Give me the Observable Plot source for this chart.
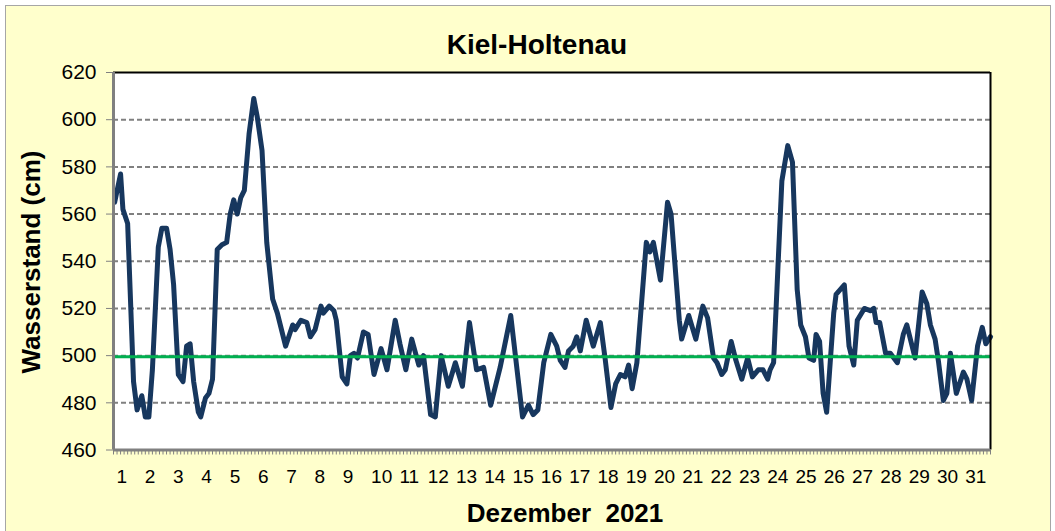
<!DOCTYPE html>
<html>
<head>
<meta charset="utf-8">
<script src="https://cdn.jsdelivr.net/npm/d3@7"></script>
<script src="https://cdn.jsdelivr.net/npm/@observablehq/plot@0.6"></script>
<style>
  html, body { margin: 0; padding: 0; background: white; }
  #wrap { position: relative; width: 1055px; height: 531px; overflow: hidden; font-family: Arial, "Liberation Sans", sans-serif; }
  #bg { position: absolute; left: 5px; top: 5px; width: 1044px; height: 540px; background: #FFFFCC; border: 1px solid #A6A6A6; }
  #title { position: absolute; left: 237px; width: 600px; top: 31px; text-align: center; font-size: 28px; line-height: 28px; font-weight: bold; color: #000; }
  #ylabel { position: absolute; left: 31px; top: 262px; transform: translate(-50%, -50%) rotate(-90deg); font-size: 26px; line-height: 26px; font-weight: bold; white-space: nowrap; color: #000; }
  #xlabel { position: absolute; left: 265px; width: 600px; top: 500px; text-align: center; font-size: 26px; line-height: 26px; font-weight: bold; white-space: pre; color: #000; }
  #chart { position: absolute; left: 0; top: 0; }
</style>
</head>
<body>
<div id="wrap">
  <div id="bg"></div>
  <div id="chart"></div>
  <div id="title">Kiel-Holtenau</div>
  <div id="ylabel">Wasserstand (cm)</div>
  <div id="xlabel">Dezember  2021</div>
</div>
<script>
// Hours since 1 Dec 2021 00:00
const hours = [1,6,8,12,17,20,24,27,30,33,38,41,45,48,51,55,59,62,65,68,72,74,78,81,84,88,92,96,99,102,105,108,111,115,119,122,126,130,135,139,146,152,154,159,164,167,171,176,178,183,187,189,194,198,201,204,207,212,216,221,227,232,239,243,248,253,259,263,269,273,278,284,290,296,302,308,314,320,328,337,347,352,356,360,365,371,376,379,383,386,390,393,396,401,407,413,417,422,426,430,434,437,440,444,452,455,458,464,470,473,480,482,488,494,500,504,509,512,516,519,524,528,533,538,542,547,551,555,557,560,563,567,572,576,580,583,587,590,594,596,599,602,605,608,611,613,620,624,628,631,637,642,645,647,650,655,659,665,670,673,680,686,690,693,697,700,704,707,710,715,721,724,728,733,737,740,744];
// Wasserstand in cm
const level = [565,577,562,556,489,477,483,474,474,494,546,554,554,545,530,492,489,504,505,489,476,474,482,484,490,545,547,548,560,566,560,567,570,594,609,601,587,548,524,518,504,513,511,515,514,508,511,521,518,521,519,515,491,488,500,501,499,510,509,492,503,494,515,505,494,507,496,500,475,474,500,487,497,487,514,494,495,479,495,517,474,479,475,477,497,509,504,498,495,502,504,508,502,515,504,514,499,478,488,492,491,496,486,497,548,544,548,532,565,560,515,507,517,507,521,516,499,497,492,494,506,498,490,499,491,494,494,490,494,497,530,574,589,582,528,513,508,499,498,509,506,484,476,497,518,526,530,504,496,515,520,519,520,514,514,501,501,497,509,513,499,527,522,513,507,497,481,484,501,484,493,490,481,504,512,505,508];
const meanLevel = 499.5;
const days = d3.range(1, 32);
const yTicks = [460, 480, 500, 520, 540, 560, 580, 600, 620];
const gridLines = [480, 500, 520, 540, 560, 580, 600];
const minorTicks = d3.range(0, 249).map(i => 1 + i / 8);

const data = hours.map((h, i) => ({t: 1 + h / 24, v: level[i]}));

const chart = Plot.plot({
  width: 1055,
  height: 531,
  marginLeft: 113,
  marginRight: 65,
  marginTop: 72,
  marginBottom: 81.5,
  style: {background: "transparent", fontFamily: "Arial, 'Liberation Sans', sans-serif", color: "black", overflow: "visible"},
  x: {domain: [1, 32], axis: null},
  y: {domain: [460, 620], axis: null},
  marks: [
    Plot.frame({fill: "white", stroke: null}),
    Plot.ruleY(gridLines, {stroke: "#808080", strokeWidth: 2, strokeDasharray: "5,3"}),
    Plot.line(data, {x: "t", y: "v", stroke: "#17375E", strokeWidth: 5, strokeLinejoin: "round", strokeLinecap: "round"}),
    Plot.ruleY([meanLevel], {stroke: "#00B050", strokeWidth: 3}),
    // borders
    Plot.ruleY([620], {stroke: "#000", strokeWidth: 2}),
    Plot.ruleX([32], {stroke: "#000", strokeWidth: 2}),
    Plot.ruleX([1], {stroke: "#808080", strokeWidth: 3}),
    Plot.ruleY([460], {stroke: "#808080", strokeWidth: 3}),
    // axes
    Plot.axisY(yTicks, {anchor: "left", tickSize: 7, tickPadding: 10, stroke: "#808080", fill: "black", fontSize: 21, label: null, tickFormat: d => String(d)}),
    Plot.axisX(minorTicks, {anchor: "bottom", tickSize: 5, stroke: "#808080", tickFormat: () => "", label: null}),
    Plot.axisX(days, {anchor: "bottom", tickSize: 0, tickPadding: 19, textAnchor: "start", dx: 3, fill: "black", fontSize: 19, label: null, tickFormat: d => String(d)})
  ]
});
document.getElementById("chart").appendChild(chart);
</script>
</body>
</html>
